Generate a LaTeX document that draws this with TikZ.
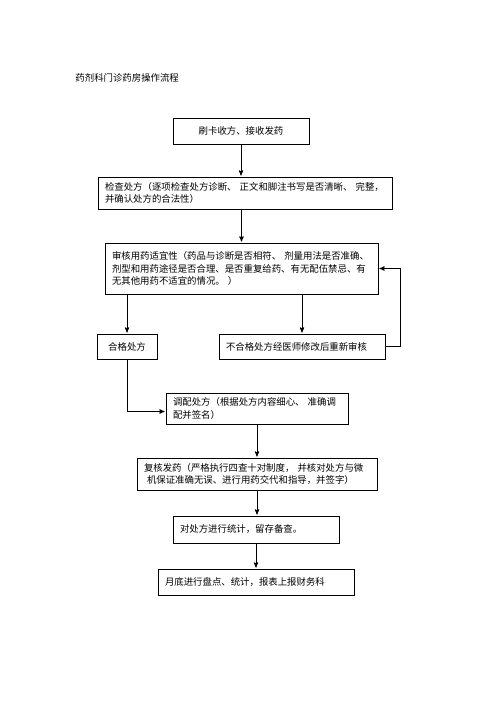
\documentclass[tikz,border=0pt]{standalone}
\usepackage{fontspec}
\newfontfamily\cjk{Noto Sans CJK SC}
\usetikzlibrary{arrows}

\begin{document}
\begin{tikzpicture}[x=1pt,y=-1pt,->,>=stealth',shorten >=1pt,auto,
                line width=0.9pt,
                flow node/.style={rectangle,draw,-,inner xsep=7pt,inner ysep=2pt,
                  align=left,font=\cjk\fontsize{9.4}{12.5}\selectfont}]
  \useasboundingbox (0,0) rectangle (500,708);

  \node[anchor=west,inner sep=0pt,font=\cjk\fontsize{9.4}{12.5}\selectfont] (title) at (75,78) {药剂科门诊药房操作流程};

  \node[flow node,align=center,text width=122pt,minimum height=26pt] (1) at (241,131) {刷卡收方、接收发药};
  \node[flow node,text width=280pt,minimum height=32pt] (2) at (245,193)
    {检查处方（逐项检查处方诊断、~正文和脚注书写是否清晰、~完整，\\并确认处方的合法性）};
  \node[flow node,text width=259pt,minimum height=51pt] (3) at (241.5,268.5)
    {审核用药适宜性（药品与诊断是否相符、~剂量用法是否准确、\\剂型和用药途径是否合理、是否重复给药、有无配伍禁忌、有\\无其他用药不适宜的情况。~）};
  \node[flow node,align=center,text width=46pt,minimum height=25pt] (4) at (127,346.5) {合格处方};
  \node[flow node,text width=152pt,minimum height=25pt] (5) at (302,346.5) {不合格处方经医师修改后重新审核};
  \node[flow node,text width=168pt,minimum height=31pt] (6) at (257,408.5)
    {调配处方（根据处方内容细心、~准确调\\配并签名）};
  \node[flow node,text width=226pt,minimum height=32pt] (7) at (257,474)
    {复核发药（严格执行四查十对制度，~并核对处方与微\\\hspace*{3pt}机保证准确无误、进行用药交代和指导，并签字）};
  \node[flow node,text width=152pt,minimum height=27pt] (8) at (256,529.5) {对处方进行统计，留存备查。};
  \node[flow node,text width=182pt,minimum height=26pt] (9) at (256,582) {月底进行盘点、统计，报表上报财务科};

  \path
    (1) edge (1 |- 2.north)
    (3 |- 2.south) edge (3)
    (4 |- 3.south) edge (4)
    (5 |- 3.south) edge (5)
    (6) edge (7)
    (7.south) edge (7.south |- 8.north)
    (8) edge (9);

  % back to review, and on to dispensing
  \draw (5.east) -- ++(15,0) |- (3.east);
  \draw (4.south) |- ([yshift=-3pt]6.west);
\end{tikzpicture}
\end{document}
